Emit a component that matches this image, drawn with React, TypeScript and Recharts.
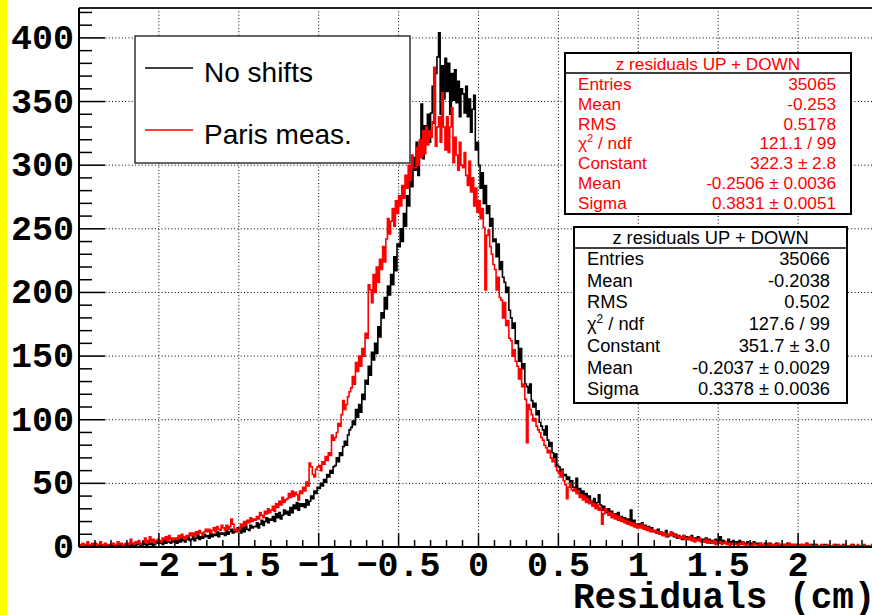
import React from 'react';
import { LineChart, Line, XAxis, YAxis, ReferenceLine } from 'recharts';

// Histogram binning: 500 bins of width 0.01 cm from -2.5 to 2.5
const BIN_LOW = -2.5;
const BIN_WIDTH = 0.01;
const X_MIN = -2.5;
const X_MAX = 2.5;
const Y_MAX = 423.5;

// "No shifts" (black) bin contents, one row per 0.1 cm
const NO_SHIFTS = [
  0, 1, 0, 2, 1, 0, 1, 0, 2, 1,
  1, 0, 2, 1, 1, 0, 2, 1, 0, 1,
  1, 2, 0, 1, 3, 1, 0, 2, 1, 2,
  2, 1, 3, 0, 2, 1, 2, 3, 1, 2,
  2, 3, 1, 4, 2, 3, 1, 2, 4, 3,
  3, 4, 2, 5, 3, 6, 4, 3, 5, 4,
  5, 3, 6, 4, 7, 5, 4, 6, 8, 5,
  6, 8, 5, 7, 9, 6, 8, 7, 10, 8,
  9, 7, 11, 8, 10, 9, 12, 8, 11, 10,
  11, 9, 13, 10, 12, 14, 11, 13, 12, 15,
  13, 11, 15, 12, 16, 14, 13, 17, 15, 16,
  16, 19, 15, 18, 21, 17, 20, 23, 19, 22,
  21, 24, 20, 26, 23, 27, 22, 25, 29, 26,
  28, 25, 31, 27, 33, 30, 35, 29, 34, 32,
  34, 31, 37, 33, 36, 40, 38, 44, 42, 47,
  46, 50, 48, 53, 51, 57, 55, 60, 58, 63,
  64, 70, 67, 74, 72, 79, 83, 80, 88, 92,
  94, 99, 96, 108, 102, 112, 106, 120, 116, 131,
  128, 142, 135, 153, 147, 160, 152, 173, 165, 184,
  180, 196, 187, 205, 198, 214, 206, 228, 217, 238,
  236, 250, 240, 262, 252, 276, 268, 295, 283, 306,
  296, 318, 292, 312, 348, 305, 331, 322, 340, 318,
  341, 362, 333, 372, 385, 404, 340, 378, 352, 384,
  358, 380, 340, 372, 351, 375, 349, 366, 338, 360,
  356, 341, 362, 338, 352, 326, 344, 355, 312, 318,
  300, 282, 294, 270, 284, 262, 268, 252, 258, 240,
  242, 228, 238, 218, 224, 212, 208, 200, 204, 186,
  180, 172, 176, 160, 162, 146, 156, 140, 144, 128,
  126, 121, 128, 115, 110, 113, 104, 107, 98, 95,
  92, 88, 95, 84, 79, 82, 74, 70, 73, 64,
  63, 59, 61, 56, 57, 53, 55, 50, 52, 47,
  45, 54, 42, 46, 40, 44, 38, 42, 37, 40,
  36, 33, 38, 31, 35, 41, 33, 29, 32, 28,
  27, 30, 25, 28, 24, 26, 23, 27, 22, 24,
  21, 23, 19, 22, 18, 29, 17, 21, 16, 18,
  18, 16, 19, 15, 17, 14, 16, 13, 15, 12,
  13, 11, 14, 10, 12, 9, 11, 13, 8, 10,
  9, 11, 8, 10, 7, 9, 8, 6, 9, 7,
  8, 6, 7, 9, 5, 7, 6, 8, 5, 6,
  6, 4, 7, 5, 6, 3, 5, 4, 6, 4,
  5, 8, 4, 5, 3, 4, 6, 3, 4, 5,
  3, 4, 2, 5, 3, 4, 2, 3, 4, 2,
  3, 2, 4, 2, 3, 1, 3, 2, 2, 3,
  2, 1, 3, 2, 1, 2, 3, 1, 2, 1,
  1, 2, 1, 3, 1, 2, 0, 2, 1, 2,
  1, 0, 2, 1, 1, 3, 1, 0, 2, 1,
  1, 2, 0, 1, 1, 0, 2, 1, 0, 1,
  0, 1, 1, 2, 0, 1, 0, 1, 2, 0,
  1, 0, 1, 0, 2, 1, 0, 1, 0, 1,
  0, 1, 0, 1, 1, 0, 1, 0, 1, 0,
];

// "Paris meas." (red) bin contents, one row per 0.1 cm
const PARIS = [
  2, 1, 3, 1, 2, 4, 1, 2, 3, 1,
  3, 1, 2, 4, 2, 1, 3, 2, 1, 2,
  2, 3, 1, 2, 4, 2, 3, 1, 2, 3,
  3, 2, 6, 3, 2, 4, 3, 5, 2, 3,
  4, 7, 3, 5, 8, 4, 6, 3, 5, 6,
  5, 4, 7, 6, 8, 5, 9, 6, 7, 5,
  7, 6, 9, 7, 10, 8, 6, 9, 8, 11,
  9, 11, 8, 12, 10, 13, 11, 9, 12, 14,
  12, 14, 11, 13, 15, 12, 16, 14, 13, 17,
  15, 13, 17, 14, 16, 22, 18, 13, 14, 12,
  14, 18, 16, 20, 17, 21, 19, 23, 20, 22,
  21, 24, 22, 27, 25, 23, 28, 26, 30, 27,
  29, 32, 28, 34, 31, 36, 33, 39, 35, 37,
  38, 42, 39, 44, 40, 43, 41, 37, 44, 42,
  47, 44, 51, 48, 66, 63, 57, 55, 61, 63,
  64, 60, 67, 65, 71, 68, 74, 72, 88, 84,
  86, 90, 97, 95, 104, 115, 108, 112, 118, 122,
  125, 134, 128, 145, 138, 150, 142, 156, 150, 168,
  164, 206, 202, 192, 214, 200, 220, 208, 226, 218,
  236, 224, 242, 258, 246, 256, 266, 252, 272, 262,
  276, 268, 284, 274, 292, 282, 300, 288, 308, 298,
  298, 314, 300, 320, 306, 327, 309, 330, 316, 327,
  322, 334, 377, 315, 330, 338, 318, 357, 330, 312,
  338, 310, 330, 345, 302, 322, 308, 296, 318, 300,
  298, 310, 292, 284, 303, 279, 290, 268, 282, 263,
  272, 258, 266, 251, 202, 245, 249, 236, 230, 222,
  218, 202, 212, 196, 194, 180, 192, 174, 178, 164,
  162, 150, 155, 146, 142, 132, 140, 126, 128, 116,
  82, 112, 108, 104, 99, 101, 95, 92, 90, 86,
  84, 80, 78, 74, 76, 70, 67, 69, 63, 60,
  58, 55, 60, 52, 49, 38, 47, 50, 45, 44,
  46, 42, 44, 39, 41, 37, 40, 35, 38, 34,
  36, 32, 34, 30, 33, 29, 31, 18, 26, 30,
  28, 25, 27, 23, 26, 22, 25, 21, 24, 20,
  22, 19, 21, 18, 20, 17, 19, 16, 18, 15,
  17, 15, 18, 14, 16, 13, 15, 12, 14, 12,
  13, 11, 12, 10, 12, 9, 11, 8, 10, 9,
  12, 9, 10, 8, 9, 7, 8, 7, 9, 6,
  7, 6, 8, 5, 7, 4, 6, 5, 7, 4,
  5, 4, 6, 3, 5, 4, 3, 5, 2, 4,
  3, 4, 2, 3, 4, 2, 3, 1, 3, 2,
  3, 2, 1, 3, 2, 4, 2, 1, 2, 3,
  2, 1, 3, 2, 1, 2, 3, 1, 2, 1,
  1, 3, 2, 1, 2, 1, 2, 3, 1, 2,
  2, 1, 2, 0, 3, 1, 2, 1, 2, 1,
  1, 2, 1, 2, 1, 3, 1, 2, 0, 1,
  2, 1, 0, 1, 2, 1, 1, 0, 2, 1,
  1, 0, 2, 1, 1, 2, 0, 1, 1, 2,
  0, 1, 1, 2, 1, 0, 1, 2, 1, 0,
  1, 2, 1, 0, 1, 1, 2, 1, 0, 1,
];

// Axis ticks and labels
const X_LABEL_TICKS = [-2, -1.5, -1, -0.5, 0, 0.5, 1, 1.5, 2];
const Y_LABEL_TICKS = [0, 50, 100, 150, 200, 250, 300, 350, 400];
const X_ALL_TICKS = Array.from({ length: 49 }, (_, i) => (i - 24) / 10);
const Y_ALL_TICKS = Array.from({ length: 43 }, (_, i) => i * 10);
const X_GRID = [-2, -1.5, -1, -0.5, 0, 0.5, 1, 1.5, 2];
const Y_GRID = [50, 100, 150, 200, 250, 300, 350, 400];

const SERIES_NAMES = ['No shifts', 'Paris meas.'];
const X_TITLE = 'Residuals (cm)';

const STATS_TITLE = 'z residuals UP + DOWN';
const STAT_LABELS = ['Entries', 'Mean', 'RMS', 'CHI', 'Constant', 'Mean', 'Sigma'];
const PARIS_STATS = ['35065', '-0.253', '0.5178', '121.1 / 99', '322.3 ± 2.8', '-0.2506 ± 0.0036', '0.3831 ± 0.0051'];
const NO_SHIFT_STATS = ['35066', '-0.2038', '0.502', '127.6 / 99', '351.7 ± 3.0', '-0.2037 ± 0.0029', '0.3378 ± 0.0036'];

const data = NO_SHIFTS.map((v, i) => ({
  x: Math.round((BIN_LOW + i * BIN_WIDTH) * 100) / 100,
  noShifts: v,
  paris: PARIS[i],
}));
data.push({ x: X_MAX, noShifts: NO_SHIFTS[NO_SHIFTS.length - 1], paris: PARIS[PARIS.length - 1] });

const MONO = '"Liberation Mono", "DejaVu Sans Mono", monospace';
const SANS = '"Liberation Sans", Arial, Helvetica, sans-serif';

const fmt = (v: number) => (v < 0 ? '\u2212' + String(Math.abs(v)) : String(v));
const near = (a: number, b: number) => Math.abs(a - b) < 1e-6;

const renderXTick = (props: any) => {
  const { x, y, payload, index } = props;
  const v = payload.value as number;
  const major = near(v * 2, Math.round(v * 2));
  const len = major ? 14 : 7;
  const label = X_LABEL_TICKS.some((t) => near(t, v));
  return (
    <g key={'xt' + index}>
      <line x1={x} x2={x} y1={y} y2={y - len} stroke="#000" strokeWidth={1.5} />
      {label && (
        <text x={x} y={y + 29} textAnchor="middle" fontFamily={MONO} fontWeight="bold" fontSize={35} fill="#000">
          {fmt(v)}
        </text>
      )}
    </g>
  );
};

const renderYTick = (props: any) => {
  const { x, y, payload, index } = props;
  const v = payload.value as number;
  const major = v % 50 === 0;
  const len = major ? 26 : 13;
  const label = Y_LABEL_TICKS.includes(v);
  return (
    <g key={'yt' + index}>
      <line x1={x} x2={x + len} y1={y} y2={y} stroke="#000" strokeWidth={1.5} />
      {label && (
        <text x={x - 5} y={y + 11} textAnchor="end" fontFamily={MONO} fontWeight="bold" fontSize={35} fill="#000">
          {v}
        </text>
      )}
    </g>
  );
};

const StatBox = ({ x, y, w, h, sep, titleBase, fontSize, rowBase, rowStep, labelX, valueX, color, values }: any) => (
  <g>
    <rect x={x} y={y} width={w} height={h} fill="#fff" stroke="#000" strokeWidth={2} />
    <line x1={x} x2={x + w} y1={sep} y2={sep} stroke="#000" strokeWidth={1.5} />
    <text x={x + w / 2} y={titleBase} textAnchor="middle" fontFamily={SANS} fontSize={fontSize} fill={color}>
      {STATS_TITLE}
    </text>
    {STAT_LABELS.map((lab, i) => (
      <g key={i}>
        <text x={labelX} y={rowBase + i * rowStep} fontFamily={SANS} fontSize={fontSize} fill={color}>
          {lab === 'CHI' ? (
            <>
              χ<tspan dy={-7} fontSize={fontSize * 0.65}>2</tspan>
              <tspan dy={7}> / ndf</tspan>
            </>
          ) : (
            lab
          )}
        </text>
        <text x={valueX} y={rowBase + i * rowStep} textAnchor="end" fontFamily={SANS} fontSize={fontSize} fill={color}>
          {values[i]}
        </text>
      </g>
    ))}
  </g>
);

export default function App() {
  return (
    <div style={{ position: 'absolute', left: 0, top: 0, width: 872, height: 615, overflow: 'hidden', background: '#fff' }}>
      <LineChart width={880} height={615} data={data} margin={{ top: 8, right: 2, bottom: 0, left: 0 }}>
        <XAxis
          dataKey="x"
          type="number"
          domain={[X_MIN, X_MAX]}
          ticks={X_ALL_TICKS}
          interval={0}
          height={68}
          tickSize={0}
          tickMargin={0}
          tickLine={false}
          axisLine={{ stroke: '#000', strokeWidth: 2 }}
          tick={renderXTick}
          allowDataOverflow
        />
        <YAxis
          type="number"
          domain={[0, Y_MAX]}
          ticks={Y_ALL_TICKS}
          interval={0}
          width={79}
          tickSize={0}
          tickMargin={0}
          tickLine={false}
          axisLine={{ stroke: '#000', strokeWidth: 2 }}
          tick={renderYTick}
          allowDataOverflow
        />
        {X_GRID.map((v) => (
          <ReferenceLine key={'gx' + v} x={v} stroke="#000" strokeWidth={1} strokeDasharray="1 2.3" />
        ))}
        {Y_GRID.map((v) => (
          <ReferenceLine key={'gy' + v} y={v} stroke="#000" strokeWidth={1} strokeDasharray="1 2.3" />
        ))}
        <ReferenceLine y={Y_MAX} stroke="#222" strokeWidth={2} />
        <ReferenceLine x={X_MAX} stroke="#222" strokeWidth={2} />
        <Line type="stepAfter" dataKey="noShifts" stroke="#000" strokeWidth={1.6} dot={false} isAnimationActive={false} />
        <Line type="stepAfter" dataKey="paris" stroke="#ff0000" strokeWidth={1.6} dot={false} isAnimationActive={false} />
      </LineChart>
      <svg width={872} height={615} style={{ position: 'absolute', left: 0, top: 0, pointerEvents: 'none' }}>
        {/* legend */}
        <rect x={135} y={36} width={275} height={127} fill="#fff" stroke="#333" strokeWidth={1.5} />
        <line x1={145} x2={193} y1={68} y2={68} stroke="#000" strokeWidth={1.5} />
        <text x={204} y={82} fontFamily={SANS} fontSize={28} fill="#000">{SERIES_NAMES[0]}</text>
        <line x1={145} x2={193} y1={130} y2={130} stroke="#ff0000" strokeWidth={1.5} />
        <text x={204} y={144} fontFamily={SANS} fontSize={28} fill="#000">{SERIES_NAMES[1]}</text>
        {/* stat boxes */}
        <StatBox x={565} y={53} w={286} h={161} sep={73} titleBase={69.5} fontSize={17.2} rowBase={90} rowStep={19.8}
          labelX={578} valueX={836} color="#ff0000" values={PARIS_STATS} />
        <StatBox x={574} y={227} w={273} h={176} sep={248} titleBase={243.5} fontSize={18.3} rowBase={265} rowStep={21.7}
          labelX={587} valueX={830} color="#000" values={NO_SHIFT_STATS} />
        {/* x-axis title */}
        <text x={573} y={608} fontFamily={MONO} fontWeight="bold" fontSize={36} fill="#000">{X_TITLE}</text>
      </svg>
      <div style={{ position: 'absolute', left: 0, top: 0, width: 7, height: 615, background: '#ffff00' }} />
    </div>
  );
}
